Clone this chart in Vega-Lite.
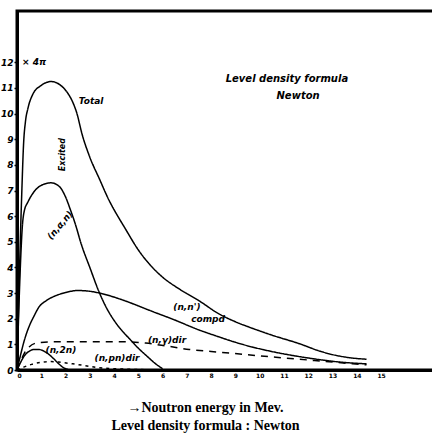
{
  "$schema": "https://vega.github.io/schema/vega-lite/v6.json",
  "width": 417,
  "height": 359,
  "autosize": {"type": "none"},
  "padding": {"left": 17, "top": 11, "right": 0, "bottom": 65},
  "background": "white",
  "config": {"view": {"stroke": "black", "strokeWidth": 3}},
  "datasets": {
    "curves": [
      {"series": "Total", "x": 0, "y": 0}, {"series": "Total", "x": 0.08, "y": 3.0}, {"series": "Total", "x": 0.15, "y": 5.5}, {"series": "Total", "x": 0.2, "y": 7.0}, {"series": "Total", "x": 0.27, "y": 8.8}, {"series": "Total", "x": 0.35, "y": 9.7}, {"series": "Total", "x": 0.45, "y": 10.2}, {"series": "Total", "x": 0.65, "y": 10.75}, {"series": "Total", "x": 1.0, "y": 11.1}, {"series": "Total", "x": 1.4, "y": 11.25}, {"series": "Total", "x": 1.8, "y": 11.1}, {"series": "Total", "x": 2.05, "y": 10.85}, {"series": "Total", "x": 2.27, "y": 10.5}, {"series": "Total", "x": 2.47, "y": 10.0}, {"series": "Total", "x": 2.68, "y": 9.2}, {"series": "Total", "x": 3.0, "y": 8.3}, {"series": "Total", "x": 3.42, "y": 7.4}, {"series": "Total", "x": 3.7, "y": 6.8}, {"series": "Total", "x": 4.5, "y": 5.45}, {"series": "Total", "x": 5.0, "y": 4.68}, {"series": "Total", "x": 5.5, "y": 4.08}, {"series": "Total", "x": 6.0, "y": 3.62}, {"series": "Total", "x": 6.7, "y": 3.15}, {"series": "Total", "x": 7.5, "y": 2.7}, {"series": "Total", "x": 8.3, "y": 2.2}, {"series": "Total", "x": 9.0, "y": 1.88}, {"series": "Total", "x": 9.6, "y": 1.66}, {"series": "Total", "x": 10.5, "y": 1.36}, {"series": "Total", "x": 11.65, "y": 1.02}, {"series": "Total", "x": 12.4, "y": 0.76}, {"series": "Total", "x": 13.0, "y": 0.6}, {"series": "Total", "x": 13.7, "y": 0.48}, {"series": "Total", "x": 14.4, "y": 0.42},
      {"series": "(n,α,n)", "x": 0, "y": 0}, {"series": "(n,α,n)", "x": 0.08, "y": 2.5}, {"series": "(n,α,n)", "x": 0.15, "y": 4.3}, {"series": "(n,α,n)", "x": 0.22, "y": 5.6}, {"series": "(n,α,n)", "x": 0.3, "y": 6.2}, {"series": "(n,α,n)", "x": 0.45, "y": 6.55}, {"series": "(n,α,n)", "x": 0.7, "y": 6.95}, {"series": "(n,α,n)", "x": 1.0, "y": 7.2}, {"series": "(n,α,n)", "x": 1.4, "y": 7.3}, {"series": "(n,α,n)", "x": 1.75, "y": 7.15}, {"series": "(n,α,n)", "x": 2.0, "y": 6.75}, {"series": "(n,α,n)", "x": 2.2, "y": 6.25}, {"series": "(n,α,n)", "x": 2.4, "y": 5.7}, {"series": "(n,α,n)", "x": 2.65, "y": 4.9}, {"series": "(n,α,n)", "x": 3.0, "y": 4.0}, {"series": "(n,α,n)", "x": 3.4, "y": 3.0}, {"series": "(n,α,n)", "x": 3.7, "y": 2.4}, {"series": "(n,α,n)", "x": 4.1, "y": 1.8}, {"series": "(n,α,n)", "x": 4.6, "y": 1.25}, {"series": "(n,α,n)", "x": 5.0, "y": 0.85}, {"series": "(n,α,n)", "x": 5.4, "y": 0.5}, {"series": "(n,α,n)", "x": 5.7, "y": 0.25}, {"series": "(n,α,n)", "x": 6.0, "y": 0.05},
      {"series": "(n,n') compd", "x": 0, "y": 0}, {"series": "(n,n') compd", "x": 0.15, "y": 0.6}, {"series": "(n,n') compd", "x": 0.3, "y": 1.15}, {"series": "(n,n') compd", "x": 0.5, "y": 1.7}, {"series": "(n,n') compd", "x": 0.7, "y": 2.1}, {"series": "(n,n') compd", "x": 0.9, "y": 2.45}, {"series": "(n,n') compd", "x": 1.2, "y": 2.7}, {"series": "(n,n') compd", "x": 1.6, "y": 2.9}, {"series": "(n,n') compd", "x": 2.0, "y": 3.02}, {"series": "(n,n') compd", "x": 2.5, "y": 3.1}, {"series": "(n,n') compd", "x": 3.0, "y": 3.07}, {"series": "(n,n') compd", "x": 3.4, "y": 3.0}, {"series": "(n,n') compd", "x": 4.2, "y": 2.78}, {"series": "(n,n') compd", "x": 5.0, "y": 2.5}, {"series": "(n,n') compd", "x": 5.45, "y": 2.33}, {"series": "(n,n') compd", "x": 6.5, "y": 1.95}, {"series": "(n,n') compd", "x": 7.5, "y": 1.56}, {"series": "(n,n') compd", "x": 8.2, "y": 1.33}, {"series": "(n,n') compd", "x": 9.0, "y": 1.08}, {"series": "(n,n') compd", "x": 9.6, "y": 0.92}, {"series": "(n,n') compd", "x": 10.6, "y": 0.7}, {"series": "(n,n') compd", "x": 11.65, "y": 0.52}, {"series": "(n,n') compd", "x": 12.5, "y": 0.4}, {"series": "(n,n') compd", "x": 13.3, "y": 0.31}, {"series": "(n,n') compd", "x": 14.4, "y": 0.24},
      {"series": "(n,2n)", "x": 0, "y": 0}, {"series": "(n,2n)", "x": 0.15, "y": 0.3}, {"series": "(n,2n)", "x": 0.3, "y": 0.55}, {"series": "(n,2n)", "x": 0.5, "y": 0.73}, {"series": "(n,2n)", "x": 0.7, "y": 0.8}, {"series": "(n,2n)", "x": 0.9, "y": 0.8}, {"series": "(n,2n)", "x": 1.1, "y": 0.74}, {"series": "(n,2n)", "x": 1.3, "y": 0.62}, {"series": "(n,2n)", "x": 1.5, "y": 0.45}, {"series": "(n,2n)", "x": 1.7, "y": 0.26}, {"series": "(n,2n)", "x": 1.9, "y": 0.1}, {"series": "(n,2n)", "x": 2.1, "y": 0.02},
      {"series": "(n,γ) dir", "x": 0, "y": 0}, {"series": "(n,γ) dir", "x": 0.15, "y": 0.35}, {"series": "(n,γ) dir", "x": 0.3, "y": 0.65}, {"series": "(n,γ) dir", "x": 0.5, "y": 0.9}, {"series": "(n,γ) dir", "x": 0.8, "y": 1.05}, {"series": "(n,γ) dir", "x": 1.5, "y": 1.1}, {"series": "(n,γ) dir", "x": 3.0, "y": 1.1}, {"series": "(n,γ) dir", "x": 4.5, "y": 1.1}, {"series": "(n,γ) dir", "x": 5.3, "y": 1.05}, {"series": "(n,γ) dir", "x": 6.2, "y": 0.93}, {"series": "(n,γ) dir", "x": 7.1, "y": 0.8}, {"series": "(n,γ) dir", "x": 8.0, "y": 0.72}, {"series": "(n,γ) dir", "x": 8.9, "y": 0.65}, {"series": "(n,γ) dir", "x": 10.0, "y": 0.55}, {"series": "(n,γ) dir", "x": 11.0, "y": 0.47}, {"series": "(n,γ) dir", "x": 12.0, "y": 0.39}, {"series": "(n,γ) dir", "x": 13.0, "y": 0.31}, {"series": "(n,γ) dir", "x": 14.4, "y": 0.2},
      {"series": "(n,pn) dir", "x": 0, "y": 0}, {"series": "(n,pn) dir", "x": 0.3, "y": 0.12}, {"series": "(n,pn) dir", "x": 0.6, "y": 0.22}, {"series": "(n,pn) dir", "x": 1.0, "y": 0.3}, {"series": "(n,pn) dir", "x": 1.4, "y": 0.33}, {"series": "(n,pn) dir", "x": 1.8, "y": 0.3}, {"series": "(n,pn) dir", "x": 2.3, "y": 0.24}, {"series": "(n,pn) dir", "x": 2.8, "y": 0.17}, {"series": "(n,pn) dir", "x": 3.3, "y": 0.1}, {"series": "(n,pn) dir", "x": 4.0, "y": 0.05}, {"series": "(n,pn) dir", "x": 5.0, "y": 0.02}, {"series": "(n,pn) dir", "x": 5.8, "y": 0}
    ],
    "labels": [
      {"text": "× 4π", "x": 0.7, "y": 12},
      {"text": "Total", "x": 3.05, "y": 10.5},
      {"text": "(n,n')", "x": 7.0, "y": 2.45},
      {"text": "compd", "x": 7.87, "y": 1.99},
      {"text": "(n,γ)dir", "x": 6.18, "y": 1.17},
      {"text": "(n,2n)", "x": 1.81, "y": 0.78},
      {"text": "(n,pn)dir", "x": 4.12, "y": 0.47}
    ],
    "heading": [
      {"text": "Level density formula", "x": 11.12, "y": 11.35},
      {"text": "Newton", "x": 11.58, "y": 10.69}
    ],
    "vlabels": [
      {"text": "Excited", "x": 1.9, "y": 8.4}
    ],
    "alabels": [
      {"text": "(n,α,n)", "x": 1.77, "y": 5.65}
    ]
  },
  "encoding": {
    "x": {
      "field": "x", "type": "quantitative",
      "scale": {"domain": [0, 17.18], "nice": false, "zero": false},
      "axis": {
        "values": [0,1,2,3,4,5,6,7,8,9,10,11,12,13,14,15],
        "grid": false, "ticks": false, "labelPadding": 2, "labelOverlap": false,
        "labelFontSize": 6, "labelFont": "DejaVu Sans", "labelFontWeight": "bold", "labelColor": "black",
        "domainColor": "black", "domainWidth": 3,
        "title": ["→Noutron energy in Mev.", "Level density formula : Newton"],
        "titleFont": "Liberation Serif", "titleFontSize": 14, "titleFontWeight": "bold",
        "titleColor": "black", "titlePadding": 22, "titleLineHeight": 18, "titleX": 188
      }
    },
    "y": {
      "field": "y", "type": "quantitative",
      "scale": {"domain": [0, 14], "nice": false},
      "axis": {
        "values": [0,1,2,3,4,5,6,7,8,9,10,11,12],
        "grid": false, "tickSize": 3, "tickWidth": 1.5, "tickColor": "black", "labelPadding": 1, "labelOverlap": false,
        "labelFontSize": 9, "labelFont": "DejaVu Sans", "labelFontWeight": "bold", "labelFontStyle": "italic", "labelColor": "black",
        "domainColor": "black", "domainWidth": 3, "title": null
      }
    }
  },
  "layer": [
    {
      "data": {"name": "curves"},
      "mark": {"type": "line", "interpolate": "monotone", "color": "black", "strokeWidth": 1.5},
      "encoding": {
        "detail": {"field": "series"},
        "strokeDash": {
          "field": "series", "type": "nominal", "legend": null,
          "scale": {
            "domain": ["Total", "(n,α,n)", "(n,n') compd", "(n,2n)", "(n,γ) dir", "(n,pn) dir"],
            "range": [[1, 0], [1, 0], [1, 0], [1, 0], [7, 6], [3, 4]]
          }
        }
      }
    },
    {
      "data": {"name": "labels"},
      "mark": {"type": "text", "font": "DejaVu Sans", "fontStyle": "italic", "fontWeight": "bold", "fontSize": 9, "color": "black"},
      "encoding": {"text": {"field": "text"}}
    },
    {
      "data": {"name": "heading"},
      "mark": {"type": "text", "font": "DejaVu Sans", "fontStyle": "italic", "fontWeight": "bold", "fontSize": 10, "color": "black"},
      "encoding": {"text": {"field": "text"}}
    },
    {
      "data": {"name": "vlabels"},
      "mark": {"type": "text", "font": "DejaVu Sans", "fontStyle": "italic", "fontWeight": "bold", "fontSize": 8, "color": "black", "angle": 270},
      "encoding": {"text": {"field": "text"}}
    },
    {
      "data": {"name": "alabels"},
      "mark": {"type": "text", "font": "DejaVu Sans", "fontStyle": "italic", "fontWeight": "bold", "fontSize": 9, "color": "black", "angle": 310},
      "encoding": {"text": {"field": "text"}}
    }
  ]
}
